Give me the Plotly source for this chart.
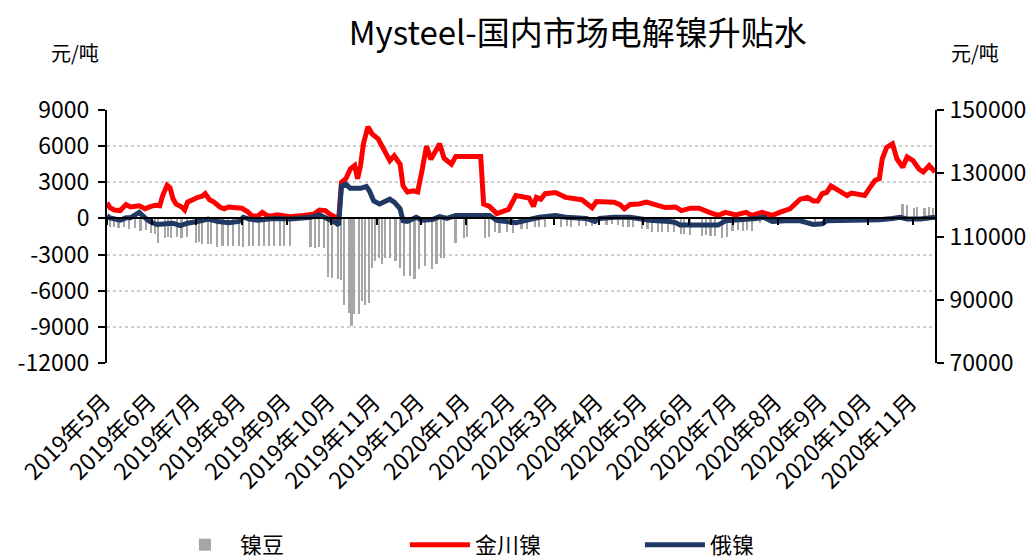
import plotly.graph_objects as go

# ---------------- data ----------------
month_ticks = ["2019-05-01", "2019-06-01", "2019-07-01", "2019-08-01", "2019-09-01",
               "2019-10-01", "2019-11-01", "2019-12-01", "2020-01-01", "2020-02-01",
               "2020-03-01", "2020-04-01", "2020-05-01", "2020-06-01", "2020-07-01",
               "2020-08-01", "2020-09-01", "2020-10-01", "2020-11-01"]
month_labels = ["2019年5月", "2019年6月", "2019年7月", "2019年8月", "2019年9月",
                "2019年10月", "2019年11月", "2019年12月", "2020年1月", "2020年2月",
                "2020年3月", "2020年4月", "2020年5月", "2020年6月", "2020年7月",
                "2020年8月", "2020年9月", "2020年10月", "2020年11月"]
left_ticks = [-12000, -9000, -6000, -3000, 0, 3000, 6000, 9000]
right_ticks = [70000, 90000, 110000, 130000, 150000]

# 镍豆 (bars)
bean_dates = ["2019-05-03", "2019-05-06", "2019-05-09", "2019-05-13", "2019-05-16", "2019-05-20",
              "2019-05-24", "2019-05-28", "2019-05-31", "2019-06-03", "2019-06-05", "2019-06-10",
              "2019-06-12", "2019-06-14", "2019-06-18", "2019-06-21", "2019-06-25", "2019-07-01",
              "2019-07-03", "2019-07-05", "2019-07-09", "2019-07-11", "2019-07-15", "2019-07-19",
              "2019-07-23", "2019-07-26", "2019-07-30", "2019-08-02", "2019-08-06", "2019-08-09",
              "2019-08-13", "2019-08-16", "2019-08-20", "2019-08-23", "2019-08-27", "2019-08-30",
              "2019-09-03", "2019-09-17", "2019-09-20", "2019-09-23", "2019-09-26", "2019-09-29",
              "2019-10-02", "2019-10-06", "2019-10-08", "2019-10-10", "2019-10-13", "2019-10-15",
              "2019-10-17", "2019-10-20", "2019-10-22", "2019-10-24", "2019-10-27", "2019-10-29",
              "2019-10-31", "2019-11-03", "2019-11-05", "2019-11-07", "2019-11-10", "2019-11-14",
              "2019-11-17", "2019-11-20", "2019-11-24", "2019-11-27", "2019-11-30", "2019-12-04",
              "2019-12-09", "2019-12-12", "2019-12-15", "2019-12-17", "2019-12-25", "2019-12-31",
              "2020-01-02", "2020-01-14", "2020-01-17", "2020-01-21", "2020-01-24", "2020-01-29",
              "2020-02-02", "2020-02-08", "2020-02-12", "2020-02-17", "2020-02-20", "2020-02-24",
              "2020-03-06", "2020-03-10", "2020-03-13", "2020-03-18", "2020-03-23", "2020-03-27",
              "2020-04-06", "2020-04-10", "2020-04-14", "2020-04-17", "2020-04-21", "2020-04-24",
              "2020-04-30", "2020-05-04", "2020-05-07", "2020-05-11", "2020-05-14", "2020-05-18",
              "2020-05-22", "2020-05-27", "2020-05-29", "2020-06-02", "2020-06-10", "2020-06-13",
              "2020-06-16", "2020-06-19", "2020-06-24", "2020-06-27", "2020-07-01", "2020-07-05",
              "2020-07-08", "2020-07-11", "2020-07-14", "2020-07-20", "2020-07-27", "2020-08-04",
              "2020-08-11", "2020-08-18", "2020-08-26", "2020-09-08", "2020-09-15", "2020-09-24",
              "2020-10-13", "2020-10-25", "2020-10-28", "2020-11-02", "2020-11-04", "2020-11-09",
              "2020-11-12", "2020-11-15"]
bean_values = [-700, -750, -800, -750, -850, -800,
               -1050, -1000, -1250, -1300, -2000, -1600,
               -1550, -1600, -1550, -1600, -1550, -2000,
               -1950, -2100, -2150, -2150, -2400, -2250,
               -2300, -2250, -2300, -2400, -2300, -2250,
               -2300, -2250, -2300, -2250, -2300, -2250,
               -2300, -2400, -2450, -2400, -2450, -4900,
               -4950, -5050, -5100, -7150, -7850, -8950,
               -7950, -7950, -6850, -7150, -7000, -4100,
               -3550, -3250, -3800, -3250, -3250, -3550,
               -4100, -4800, -4800, -5050, -4200, -3950,
               -4200, -3800, -3250, -3250, -2000, -1600,
               -1550, -1600, -1550, -1150, -1200, -1150,
               -1200, -900, -850, -750, -700, -750,
               -700, -650, -700, -600, -650, -600,
               -550, -500, -550, -750, -700, -750,
               -900, -850, -1100, -1150, -1100, -1100,
               -1150, -1300, -1300, -1350, -1450, -1400,
               -1450, -1450, -1600, -1550, -1050, -1000,
               -1050, -1000, -1050, -400, -300, -350,
               -250, -300, -400, -200, -250, -200,
               -150, 1200, 1100, 900, 950, 900,
               950, 900]

# 金川镍 (red line)
jc_dates = ["2019-05-01", "2019-05-03", "2019-05-06", "2019-05-10", "2019-05-14", "2019-05-17",
            "2019-05-23", "2019-05-27", "2019-05-30", "2019-06-03", "2019-06-06", "2019-06-08",
            "2019-06-11", "2019-06-13", "2019-06-15", "2019-06-17", "2019-06-21", "2019-06-23",
            "2019-06-25", "2019-06-28", "2019-07-02", "2019-07-05", "2019-07-07", "2019-07-10",
            "2019-07-13", "2019-07-17", "2019-07-20", "2019-07-23", "2019-07-28", "2019-08-01",
            "2019-08-05", "2019-08-08", "2019-08-12", "2019-08-15", "2019-08-18", "2019-08-22",
            "2019-08-25", "2019-09-03", "2019-09-12", "2019-09-19", "2019-09-23", "2019-09-27",
            "2019-09-30", "2019-10-04", "2019-10-06", "2019-10-08", "2019-10-11", "2019-10-14",
            "2019-10-17", "2019-10-19", "2019-10-21", "2019-10-23", "2019-10-26", "2019-10-29",
            "2019-11-02", "2019-11-05", "2019-11-08", "2019-11-10", "2019-11-13", "2019-11-17",
            "2019-11-19", "2019-11-22", "2019-11-26", "2019-11-29", "2019-12-02", "2019-12-05",
            "2019-12-08", "2019-12-12", "2019-12-14", "2019-12-17", "2019-12-22", "2019-12-25",
            "2020-01-03", "2020-01-11", "2020-01-13", "2020-01-17", "2020-01-22", "2020-01-30",
            "2020-02-04", "2020-02-13", "2020-02-16", "2020-02-18", "2020-02-21", "2020-02-24",
            "2020-03-02", "2020-03-09", "2020-03-20", "2020-03-27", "2020-03-30", "2020-04-11",
            "2020-04-15", "2020-04-18", "2020-04-22", "2020-04-28", "2020-05-03", "2020-05-09",
            "2020-05-16", "2020-05-23", "2020-05-27", "2020-06-02", "2020-06-08", "2020-06-15",
            "2020-06-21", "2020-06-26", "2020-07-03", "2020-07-10", "2020-07-14", "2020-07-21",
            "2020-07-28", "2020-08-02", "2020-08-09", "2020-08-16", "2020-08-21", "2020-08-25",
            "2020-08-28", "2020-08-31", "2020-09-03", "2020-09-06", "2020-09-12", "2020-09-17",
            "2020-09-20", "2020-09-29", "2020-10-02", "2020-10-06", "2020-10-09", "2020-10-11",
            "2020-10-14", "2020-10-18", "2020-10-21", "2020-10-25", "2020-10-28", "2020-11-01",
            "2020-11-05", "2020-11-08", "2020-11-12", "2020-11-16"]
jc_values = [1300, 900, 700, 650, 1150, 950,
             1050, 800, 950, 1100, 1050, 1900,
             2750, 2550, 1650, 1200, 950, 700,
             1350, 1550, 1750, 1850, 2050, 1550,
             1350, 950, 800, 950, 950, 850,
             550, 200, 200, 500, 250, 200,
             300, 150, 250, 350, 700, 650,
             350, 100, -200, 3000, 3300, 4100,
             4400, 3300, 4400, 6200, 7600, 7000,
             6600, 5900, 5400, 4800, 5200, 4500,
             2700, 2200, 2300, 2200, 4000, 6000,
             4900, 5800, 6200, 5000, 4500, 5150,
             5150, 5150, 1200, 1000, 400, 750,
             1900, 1700, 1000, 1750, 1600, 2050,
             2150, 1750, 1550, 900, 1400, 1350,
             1150, 800, 1150, 1200, 1350, 1150,
             900, 950, 650, 850, 850, 500,
             250, 500, 300, 500, 250, 500,
             250, 500, 800, 1600, 1750, 1450,
             1450, 2050, 2150, 2700, 2300, 1900,
             2100, 1900, 2450, 3150, 3300, 4950,
             5900, 6200, 4950, 4250, 5100, 4800,
             4100, 3850, 4400, 3850]

# 俄镍 (navy line)
ru_dates = ["2019-05-01", "2019-05-03", "2019-05-10", "2019-05-14", "2019-05-17", "2019-05-23",
            "2019-05-27", "2019-05-30", "2019-06-04", "2019-06-11", "2019-06-15", "2019-06-20",
            "2019-06-25", "2019-07-04", "2019-07-09", "2019-07-16", "2019-07-23", "2019-07-30",
            "2019-08-02", "2019-08-06", "2019-08-12", "2019-08-19", "2019-08-25", "2019-09-03",
            "2019-09-17", "2019-09-23", "2019-09-29", "2019-10-04", "2019-10-06", "2019-10-08",
            "2019-10-11", "2019-10-14", "2019-10-21", "2019-10-25", "2019-10-27", "2019-10-30",
            "2019-11-03", "2019-11-07", "2019-11-10", "2019-11-13", "2019-11-17", "2019-11-19",
            "2019-11-22", "2019-11-28", "2019-12-02", "2019-12-09", "2019-12-14", "2019-12-19",
            "2019-12-25", "2020-01-10", "2020-01-17", "2020-01-22", "2020-02-04", "2020-02-11",
            "2020-02-20", "2020-03-02", "2020-03-09", "2020-03-23", "2020-03-29", "2020-04-01",
            "2020-04-11", "2020-04-22", "2020-04-28", "2020-05-05", "2020-05-19", "2020-05-23",
            "2020-05-26", "2020-06-04", "2020-06-21", "2020-06-26", "2020-07-03", "2020-07-10",
            "2020-07-17", "2020-07-22", "2020-07-28", "2020-08-06", "2020-08-16", "2020-08-25",
            "2020-08-31", "2020-09-03", "2020-09-17", "2020-09-30", "2020-10-09", "2020-10-18",
            "2020-10-23", "2020-10-28", "2020-11-06", "2020-11-16"]
ru_values = [250, 50, -150, 50, 50, 500,
             50, -250, -500, -400, -400, -600,
             -400, -200, -50, -250, -350, -250,
             100, -50, -150, -50, 0, -50,
             100, 300, 0, -350, -550, 2700,
             2850, 2500, 2500, 2650, 2300, 1450,
             1200, 1450, 1600, 1350, 800, -200,
             -250, 100, -150, -100, 150, 0,
             250, 250, 250, -150, -350, -150,
             100, 250, 100, 0, -250, 0,
             100, 100, 0, -150, -250, -350,
             -550, -550, -550, -200, -150, -50,
             0, 100, -250, -200, -200, -500,
             -450, -200, -200, -200, -100, 0,
             100, -50, -50, 100]

# ---------------- figure ----------------
FONT = "Noto Sans CJK SC"
fig = go.Figure()

fig.add_trace(go.Bar(
    x=bean_dates, y=bean_values, name="镍豆",
    marker=dict(color="#a6a6a6", line=dict(width=0)),
    width=1.1 * 86400000,
))
fig.add_trace(go.Scatter(
    x=jc_dates, y=jc_values, name="金川镍", mode="lines",
    line=dict(color="#ff0000", width=5),
))
fig.add_trace(go.Scatter(
    x=ru_dates, y=ru_values, name="俄镍", mode="lines",
    line=dict(color="#1f3864", width=5),
))
# helper traces so that the zero-line axis and the right axis get drawn
fig.add_trace(go.Scatter(x=[month_ticks[0]], y=[0], xaxis="x2", yaxis="y",
                         mode="markers", marker=dict(opacity=0), showlegend=False,
                         hoverinfo="skip"))
fig.add_trace(go.Scatter(x=[month_ticks[0]], y=[110000], xaxis="x", yaxis="y2",
                         mode="markers", marker=dict(opacity=0), showlegend=False,
                         hoverinfo="skip"))

tickfont = dict(family=FONT, size=23, color="#000000")
xtickfont = dict(family=FONT, size=23, color="#000000")

fig.update_layout(
    width=1036, height=560,
    paper_bgcolor="white", plot_bgcolor="white",
    margin=dict(l=99, r=109, t=102, b=205, autoexpand=False),
    bargap=0,
    title=dict(text="Mysteel-国内市场电解镍升贴水", x=0.550, xref="container",
               xanchor="center", y=0.955, yref="container", yanchor="middle",
               font=dict(family=FONT, size=33, color="#000000")),
    xaxis=dict(
        type="date", range=["2019-05-01", "2020-11-16"], automargin=False,
        tickmode="array", tickvals=month_ticks, ticktext=month_labels,
        tickangle=-45, tickfont=xtickfont, ticks="", showline=False,
        showgrid=False, zeroline=False, ticklabelstandoff=20, ticklabelshift=-3,
    ),
    xaxis2=dict(
        type="date", overlaying="x", matches="x", anchor="free", position=0.5731,
        tickmode="array", tickvals=month_ticks, showticklabels=False, automargin=False,
        ticks="outside", ticklen=6, tickwidth=1.5, tickcolor="#000000",
        showline=True, linecolor="#000000", linewidth=1.5, showgrid=False,
        zeroline=False,
    ),
    yaxis=dict(
        range=[-12000, 9000], tickmode="array", tickvals=left_ticks,
        ticktext=[str(v) for v in left_ticks], automargin=False,
        tickfont=tickfont, ticks="outside", ticklen=7, tickwidth=2, tickcolor="#000000",
        showline=True, linecolor="#000000", linewidth=2,
        showgrid=True, gridcolor="#cfcfcf", griddash="dot", gridwidth=1.5,
        zeroline=False, ticklabelstandoff=4,
    ),
    yaxis2=dict(
        range=[70000, 150000], overlaying="y", side="right", tickmode="array",
        tickvals=right_ticks, ticktext=[str(v) for v in right_ticks], automargin=False,
        tickfont=tickfont, ticks="outside", ticklen=7, tickwidth=2, tickcolor="#000000",
        showline=True, linecolor="#000000", linewidth=2, showgrid=False,
        zeroline=False, ticklabelstandoff=1,
    ),
    legend=dict(
        orientation="h", x=0.076, y=-0.719, xanchor="left", yanchor="middle",
        font=dict(family=FONT, size=22, color="#000000"),
        entrywidth=160, entrywidthmode="pixels", itemwidth=60,
        traceorder="normal",
    ),
    annotations=[
        dict(text="元/吨", x=-0.039, y=1.229, xref="paper", yref="paper",
             xanchor="center", yanchor="middle",
             showarrow=False, font=dict(family=FONT, size=20, color="#000000")),
        dict(text="元/吨", x=1.048, y=1.229, xref="paper", yref="paper",
             xanchor="center", yanchor="middle",
             showarrow=False, font=dict(family=FONT, size=20, color="#000000")),
    ],
    showlegend=True,
)

fig.write_html("out.html")
